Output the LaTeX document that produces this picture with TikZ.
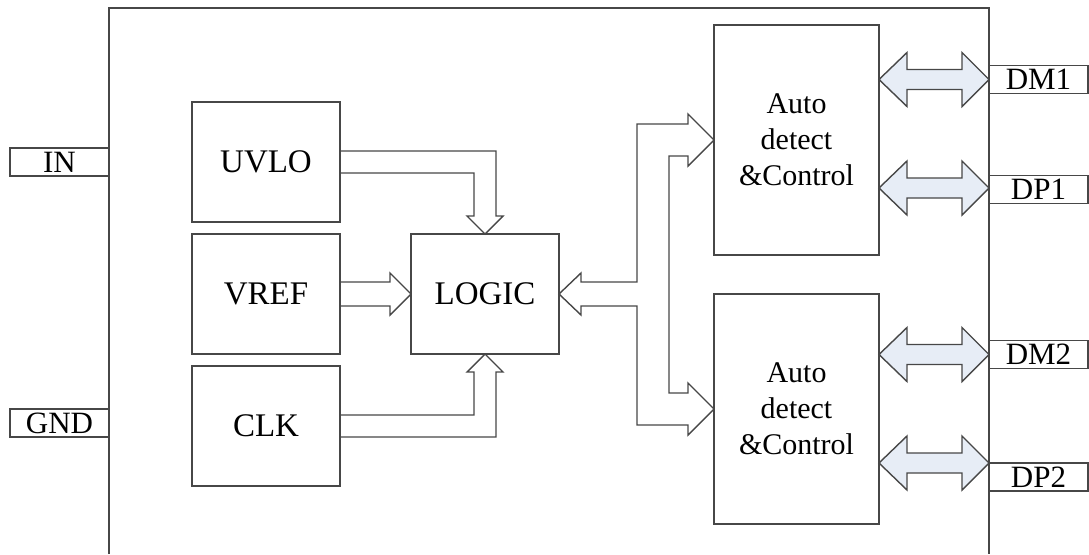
\documentclass[tikz,border=0pt]{standalone}
\usepackage{fontspec}
\setmainfont{Liberation Serif}
\usetikzlibrary{calc}
\definecolor{busfill}{HTML}{E7EDF6}
\definecolor{linegray}{HTML}{474747}
\tikzset{
  block/.style={draw=linegray, minimum width=74pt, minimum height=60pt, inner sep=0pt, outer sep=0pt, font=\fontsize{16.5}{20}\selectfont},
  ctrlbox/.style={draw=linegray, minimum width=82.5pt, minimum height=115pt, inner sep=0pt, outer sep=0pt, align=center, font=\fontsize{15}{18}\selectfont},
  pinbox/.style={draw=linegray, minimum width=49.5pt, minimum height=14pt, inner sep=0pt, outer sep=0pt, font=\fontsize{15.5}{16}\selectfont},
  bus/.style={draw=linegray, line join=miter},
  dbus/.style={draw=linegray, fill=busfill, line join=miter}
}
\begin{document}
\begin{tikzpicture}[x=0.5pt, y=-0.5pt, line width=0.7pt]
\useasboundingbox (0,0) rectangle (1089,554);
% chip outline
\draw[linegray] (109,554) -- (109,8) -- (989,8) -- (989,554);
% pins
\node[pinbox] (vin) at (59.5,162) {IN};
\node[pinbox] (gnd) at (59.5,423) {GND};
\node[pinbox] (dm1) at (1038.5,79.5) {DM1};
\node[pinbox] (dp1) at (1038.5,189.5) {DP1};
\node[pinbox] (dm2) at (1038.5,354.5) {DM2};
\node[pinbox] (dp2) at (1038.5,477) {DP2};
% blocks
\node[block] (uvlo) at (266,162) {UVLO};
\node[block] (vref) at (266,294) {VREF};
\node[block] (clk) at (266,426) {CLK};
\node[block] (logic) at (485,294) {LOGIC};
\node[ctrlbox] (auto1) at (796.5,140) {Auto\\detect\\\&Control};
\node[ctrlbox] (auto2) at (796.5,409) {Auto\\detect\\\&Control};
% block arrows into LOGIC
\draw[bus] ($(uvlo.east)+(0,-11)$) -| ($(logic.north)+(11,-18)$) -- ++(7,0) -- (logic.north) -- ++(-18,-18) -- ++(7,0) |- ($(uvlo.east)+(0,11)$);
\draw[bus] ($(vref.east)+(0,-12)$) -- ($(logic.west)+(-21,-12)$) -- ++(0,-9) -- (logic.west) -- ++(-21,21) -- ++(0,-9) -- ($(vref.east)+(0,12)$);
\draw[bus] ($(clk.east)+(0,11)$) -| ($(logic.south)+(11,18)$) -- ++(7,0) -- (logic.south) -- ++(-18,18) -- ++(7,0) |- ($(clk.east)+(0,-11)$);
% bus between LOGIC and the two controllers
\draw[bus] (logic.east) -- ++(22,-21) -- ++(0,9) -| ($(auto1.west)+(-77,-16)$) -- ++(51,0) -- ++(0,-10) -- (auto1.west) -- ++(-26,26) -- ++(0,-10) -| ($(auto2.west)+(-45,-16)$) -- ++(19,0) -- ++(0,-10) -- (auto2.west) -- ++(-26,26) -- ++(0,-10) -| ($(logic.east)+(78,12)$) -- ++(-56,0) -- ++(0,9) -- cycle;
% double arrows to the data pins
\draw[dbus] (auto1.east |- dm1.west) -- ++(28,-27) -- ++(0,17) -- ++(55,0) -- ++(0,-17) -- (dm1.west) -- ++(-27,27) -- ++(0,-17) -- ++(-55,0) -- ++(0,17) -- cycle;
\draw[dbus] (auto1.east |- 0,188) -- ++(28,-27) -- ++(0,17) -- ++(55,0) -- ++(0,-17) -- (dp1.west |- 0,188) -- ++(-27,27) -- ++(0,-17) -- ++(-55,0) -- ++(0,17) -- cycle;
\draw[dbus] (auto2.east |- dm2.west) -- ++(28,-27) -- ++(0,17) -- ++(55,0) -- ++(0,-17) -- (dm2.west) -- ++(-27,27) -- ++(0,-17) -- ++(-55,0) -- ++(0,17) -- cycle;
\draw[dbus] (auto2.east |- dp2.north west) -- ++(28,-27) -- ++(0,17) -- ++(55,0) -- ++(0,-17) -- (dp2.north west) -- ++(-27,27) -- ++(0,-17) -- ++(-55,0) -- ++(0,17) -- cycle;
\end{tikzpicture}
\end{document}
